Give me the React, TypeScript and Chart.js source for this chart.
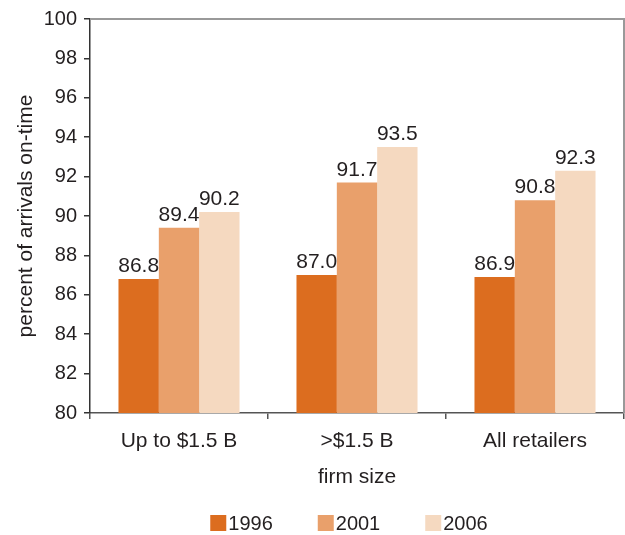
import React, { useEffect, useRef } from "react";
import { Chart, registerables } from "chart.js";

Chart.register(...registerables);

const categories = ["Up to $1.5 B", ">$1.5 B", "All retailers"];
const seriesNames = ["1996", "2001", "2006"];
const values1996 = [86.8, 87.0, 86.9];
const values2001 = [89.4, 91.7, 90.8];
const values2006 = [90.2, 93.5, 92.3];
const colors = ["#DC6D1F", "#E9A06B", "#F5D9C0"];

const FONT = "'Liberation Sans', Arial, sans-serif";
const TEXT = "#231f20";

const labelPlugin = {
  id: "valueLabels",
  afterDatasetsDraw(chart: any) {
    const ctx = chart.ctx;
    ctx.save();
    ctx.font = `21px ${FONT}`;
    ctx.fillStyle = TEXT;
    ctx.textAlign = "center";
    ctx.textBaseline = "alphabetic";
    chart.data.datasets.forEach((ds: any, di: number) => {
      const meta = chart.getDatasetMeta(di);
      meta.data.forEach((bar: any, i: number) => {
        const v = ds.data[i] as number;
        ctx.fillText(v.toFixed(1), bar.x, bar.y - 7);
      });
    });
    ctx.restore();
  },
};

const framePlugin = {
  id: "frame",
  afterDraw(chart: any) {
    const { ctx, chartArea } = chart;
    ctx.save();
    ctx.strokeStyle = "#999999";
    ctx.lineWidth = 2;
    ctx.beginPath();
    ctx.moveTo(chartArea.left + 1, chartArea.top);
    ctx.lineTo(chartArea.right, chartArea.top);
    ctx.lineTo(chartArea.right, chartArea.bottom);
    ctx.stroke();
    ctx.restore();
  },
};

const legendPlugin = {
  id: "customLegend",
  afterDraw(chart: any) {
    const { ctx, chartArea } = chart;
    ctx.save();
    ctx.font = `20px ${FONT}`;
    ctx.textBaseline = "middle";
    ctx.textAlign = "left";
    const box = 16;
    const gap = 2;
    const itemGap = 45;
    const widths = seriesNames.map((n) => box + gap + ctx.measureText(n).width);
    const total = widths.reduce((a, b) => a + b, 0) + itemGap * (seriesNames.length - 1);
    let x = (chartArea.left + chartArea.right) / 2 - 8 - total / 2;
    const yc = 523;
    seriesNames.forEach((n, i) => {
      ctx.fillStyle = colors[i];
      ctx.fillRect(x, yc - box / 2, box, box);
      ctx.fillStyle = TEXT;
      ctx.fillText(n, x + box + gap, yc + 1);
      x += widths[i] + itemGap;
    });
    ctx.restore();
  },
};

export default function App() {
  const ref = useRef<HTMLCanvasElement>(null);
  useEffect(() => {
    document.body.style.margin = "0";
    const chart = new Chart(ref.current as HTMLCanvasElement, {
      type: "bar",
      data: {
        labels: categories,
        datasets: [
          { label: seriesNames[0], data: values1996, backgroundColor: colors[0] },
          { label: seriesNames[1], data: values2001, backgroundColor: colors[1] },
          { label: seriesNames[2], data: values2006, backgroundColor: colors[2] },
        ],
      },
      options: {
        animation: false,
        responsive: false,
        maintainAspectRatio: false,
        layout: { padding: { top: 19, right: 1, bottom: 42, left: 0 } },
        datasets: { bar: { categoryPercentage: 0.68, barPercentage: 1.0 } },
        plugins: {
          legend: { display: false },
          tooltip: { enabled: false },
        },
        scales: {
          x: {
            afterFit: (s: any) => {
              s.height = 80;
            },
            grid: {
              offset: true,
              drawOnChartArea: false,
              drawTicks: true,
              tickLength: 6,
              color: "#555555",
              lineWidth: 1.5,
            },
            border: { color: "#555555", width: 1.5 },
            ticks: {
              color: TEXT,
              font: { family: FONT, size: 21 },
              padding: 10,
              maxRotation: 0,
            },
            title: {
              display: true,
              text: "firm size",
              color: TEXT,
              font: { family: FONT, size: 21 },
              padding: { top: 0, bottom: 3 },
            },
          },
          y: {
            min: 80,
            max: 100,
            afterFit: (s: any) => {
              s.width = 90;
            },
            grid: {
              drawOnChartArea: false,
              drawTicks: true,
              tickLength: 6,
              color: "#333333",
              lineWidth: 1.5,
            },
            border: { color: "#333333", width: 1.5 },
            ticks: {
              stepSize: 2,
              color: TEXT,
              font: { family: FONT, size: 20 },
              padding: 7,
            },
            title: {
              display: true,
              text: "percent of arrivals on-time",
              color: TEXT,
              font: { family: FONT, size: 21 },
              padding: { top: 14, bottom: 0 },
            },
          },
        },
      },
      plugins: [labelPlugin, framePlugin, legendPlugin],
    });
    return () => chart.destroy();
  }, []);
  return (
    <div style={{ width: 625, height: 535 }}>
      <canvas ref={ref} width={625} height={535} />
    </div>
  );
}
